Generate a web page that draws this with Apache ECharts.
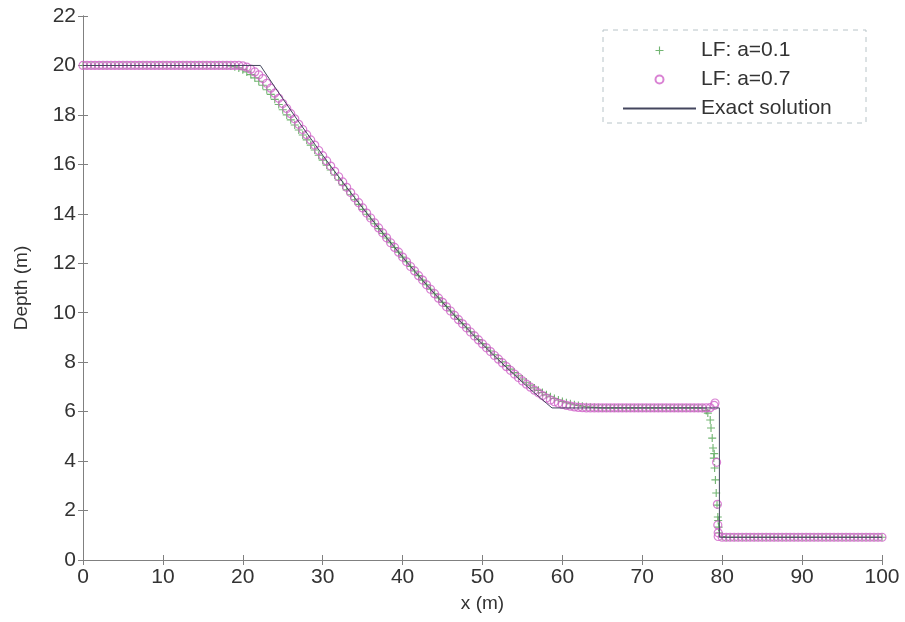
<!DOCTYPE html>
<html>
<head>
    <meta charset="utf-8">
    <title>Dam break - Depth</title>
    <script src="https://cdn.jsdelivr.net/npm/echarts@6/dist/echarts.min.js"></script>
</head>
<body style="margin:0;background:#fff;">
<div id="main" style="width: 905px;height:622px;"></div>
<script type="text/javascript">

    // sample grid of the numerical solutions (m)
    var xGrid = [
        0, 0.5, 1, 1.5, 2, 2.5, 3, 3.5, 4, 4.5,
        5, 5.5, 6, 6.5, 7, 7.5, 8, 8.5, 9, 9.5,
        10, 10.5, 11, 11.5, 12, 12.5, 13, 13.5, 14, 14.5,
        15, 15.5, 16, 16.5, 17, 17.5, 18, 18.5, 19, 19.5,
        20, 20.5, 21, 21.5, 22, 22.5, 23, 23.5, 24, 24.5,
        25, 25.5, 26, 26.5, 27, 27.5, 28, 28.5, 29, 29.5,
        30, 30.5, 31, 31.5, 32, 32.5, 33, 33.5, 34, 34.5,
        35, 35.5, 36, 36.5, 37, 37.5, 38, 38.5, 39, 39.5,
        40, 40.5, 41, 41.5, 42, 42.5, 43, 43.5, 44, 44.5,
        45, 45.5, 46, 46.5, 47, 47.5, 48, 48.5, 49, 49.5,
        50, 50.5, 51, 51.5, 52, 52.5, 53, 53.5, 54, 54.5,
        55, 55.5, 56, 56.5, 57, 57.5, 58, 58.5, 59, 59.5,
        60, 60.5, 61, 61.5, 62, 62.5, 63, 63.5, 64, 64.5,
        65, 65.5, 66, 66.5, 67, 67.5, 68, 68.5, 69, 69.5,
        70, 70.5, 71, 71.5, 72, 72.5, 73, 73.5, 74, 74.5,
        75, 75.5, 76, 76.5, 77, 77.5, 78, 78.5, 79, 79.5,
        80, 80.5, 81, 81.5, 82, 82.5, 83, 83.5, 84, 84.5,
        85, 85.5, 86, 86.5, 87, 87.5, 88, 88.5, 89, 89.5,
        90, 90.5, 91, 91.5, 92, 92.5, 93, 93.5, 94, 94.5,
        95, 95.5, 96, 96.5, 97, 97.5, 98, 98.5, 99, 99.5,
        100
    ];

    // LF: a=0.1 depth (m)
    var lf01Y = [
        20, 20, 20, 20, 20, 20, 20, 20, 20, 20,
        20, 20, 20, 20, 20, 20, 20, 20, 20, 20,
        20, 20, 20, 20, 20, 20, 20, 20, 20, 20,
        20, 20, 20, 20, 20, 20, 20, 19.98, 19.95, 19.9,
        19.83, 19.74, 19.63, 19.5, 19.36, 19.2, 19.02, 18.83, 18.63, 18.42,
        18.21, 18.0, 17.8, 17.59, 17.39, 17.19, 16.99, 16.78, 16.58, 16.37,
        16.17, 15.97, 15.77, 15.57, 15.37, 15.17, 14.97, 14.77, 14.57, 14.38,
        14.18, 13.98, 13.79, 13.6, 13.4, 13.21, 13.02, 12.83, 12.64, 12.45,
        12.25, 12.06, 11.87, 11.69, 11.5, 11.32, 11.13, 10.95, 10.77, 10.6,
        10.42, 10.25, 10.07, 9.9, 9.73, 9.56, 9.39, 9.23, 9.07, 8.91,
        8.75, 8.6, 8.45, 8.3, 8.15, 8.01, 7.86, 7.72, 7.58, 7.45,
        7.32, 7.19, 7.07, 6.96, 6.86, 6.77, 6.68, 6.6, 6.53, 6.47,
        6.41, 6.36, 6.32, 6.28, 6.25, 6.22, 6.2, 6.18, 6.17, 6.16,
        6.15, 6.15, 6.15, 6.15, 6.15, 6.15, 6.15, 6.15, 6.15, 6.15,
        6.15, 6.15, 6.15, 6.15, 6.15, 6.15, 6.15, 6.15, 6.15, 6.15,
        6.15, 6.15, 6.15, 6.15, 6.15, 6.14, 6.05, 5.66, 4.3, 1.6,
        0.95, 0.92, 0.92, 0.92, 0.92, 0.92, 0.92, 0.92, 0.92, 0.92,
        0.92, 0.92, 0.92, 0.92, 0.92, 0.92, 0.92, 0.92, 0.92, 0.92,
        0.92, 0.92, 0.92, 0.92, 0.92, 0.92, 0.92, 0.92, 0.92, 0.92,
        0.92, 0.92, 0.92, 0.92, 0.92, 0.92, 0.92, 0.92, 0.92, 0.92,
        0.92
    ];

    // LF: a=0.7 depth (m)
    var lf07Y = [
        20, 20, 20, 20, 20, 20, 20, 20, 20, 20,
        20, 20, 20, 20, 20, 20, 20, 20, 20, 20,
        20, 20, 20, 20, 20, 20, 20, 20, 20, 20,
        20, 20, 20, 20, 20, 20, 20, 20, 20, 20,
        19.98, 19.93, 19.85, 19.74, 19.62, 19.47, 19.28, 19.08, 18.88, 18.67,
        18.46, 18.26, 18.05, 17.84, 17.62, 17.41, 17.2, 16.99, 16.78, 16.56,
        16.35, 16.14, 15.93, 15.72, 15.5, 15.29, 15.07, 14.86, 14.65, 14.45,
        14.24, 14.03, 13.83, 13.63, 13.43, 13.23, 13.03, 12.83, 12.64, 12.45,
        12.25, 12.06, 11.87, 11.69, 11.5, 11.32, 11.13, 10.95, 10.77, 10.59,
        10.42, 10.24, 10.07, 9.89, 9.72, 9.55, 9.39, 9.22, 9.06, 8.9,
        8.74, 8.58, 8.43, 8.27, 8.12, 7.97, 7.82, 7.67, 7.52, 7.38,
        7.24, 7.11, 6.99, 6.87, 6.76, 6.65, 6.55, 6.47, 6.4, 6.34,
        6.29, 6.25, 6.22, 6.19, 6.17, 6.16, 6.15, 6.15, 6.15, 6.15,
        6.15, 6.15, 6.15, 6.15, 6.15, 6.15, 6.15, 6.15, 6.15, 6.15,
        6.15, 6.15, 6.15, 6.15, 6.15, 6.15, 6.15, 6.15, 6.15, 6.15,
        6.15, 6.15, 6.15, 6.15, 6.15, 6.15, 6.15, 6.16, 6.25, 0.95,
        0.92, 0.92, 0.92, 0.92, 0.92, 0.92, 0.92, 0.92, 0.92, 0.92,
        0.92, 0.92, 0.92, 0.92, 0.92, 0.92, 0.92, 0.92, 0.92, 0.92,
        0.92, 0.92, 0.92, 0.92, 0.92, 0.92, 0.92, 0.92, 0.92, 0.92,
        0.92, 0.92, 0.92, 0.92, 0.92, 0.92, 0.92, 0.92, 0.92, 0.92,
        0.92
    ];

    // extra points inside the shock
    var lf01ShockX = [78.2, 78.6, 78.75, 78.85, 78.95, 79.05, 79.15, 79.25, 79.35, 79.45, 79.55, 79.6];
    var lf01ShockY = [5.94, 5.34, 4.93, 4.53, 4.12, 3.72, 3.24, 2.71, 2.22, 1.74, 1.33, 1.09];
    var lf07ShockX = [79.1, 79.3, 79.4, 79.45, 79.5];
    var lf07ShockY = [6.35, 3.95, 2.25, 1.42, 1.1];

    // exact solution
    var exactX = [0, 22.2,
        23, 24, 25, 26, 27, 28, 29, 30, 31, 32, 33, 34, 35, 36, 37, 38, 39, 40,
        41, 42, 43, 44, 45, 46, 47, 48, 49, 50, 51, 52, 53, 54, 55, 56, 57, 58,
        58.7, 79.65, 79.65, 100];
    var exactY = [20, 20,
        19.61, 19.13, 18.66, 18.19, 17.72, 17.27, 16.82, 16.37, 15.93, 15.5, 15.07, 14.65, 14.24, 13.83, 13.43, 13.03, 12.64, 12.25,
        11.87, 11.5, 11.13, 10.77, 10.42, 10.07, 9.72, 9.39, 9.05, 8.73, 8.41, 8.1, 7.79, 7.49, 7.19, 6.9, 6.62, 6.34,
        6.15, 6.15, 0.92, 0.92];

    function pairs(xs, ys) {
        var out = [];
        for (var i = 0; i < xs.length; i++) {
            out.push([xs[i], ys[i]]);
        }
        return out;
    }

    var font = 'Liberation Sans, Arial, sans-serif';
    var axisColor = '#808080';
    var textColor = '#333333';
    var exactColor = '#44465e';
    var plusPath = 'path://M4.3,0H5.7V4.3H10V5.7H5.7V10H4.3V5.7H0V4.3H4.3Z';

    var myChart = echarts.init(document.getElementById('main'));

    myChart.setOption({
        animation: false,
        backgroundColor: '#fff',
        grid: {left: 83, right: 23, top: 16, bottom: 62},
        legend: {
            orient: 'vertical',
            left: 617,
            top: 35,
            z: 10,
            itemWidth: 73,
            itemHeight: 8,
            itemGap: 8,
            textStyle: {fontSize: 21, color: textColor, fontFamily: font},
            data: [
                'LF: a=0.1',
                'LF: a=0.7',
                // line only, no dot on the legend icon
                {name: 'Exact solution', itemStyle: {color: 'rgba(0,0,0,0)', borderWidth: 0}}
            ]
        },
        graphic: [{
            type: 'rect',
            z: 1,
            shape: {x: 603, y: 30, width: 263, height: 93},
            style: {fill: '#fff', stroke: '#b8c4c8', lineWidth: 1, lineDash: [5, 5]}
        }],
        xAxis: [{
            type: 'value',
            min: 0, max: 100, interval: 10,
            name: 'x (m)',
            nameLocation: 'middle',
            nameGap: 34,
            nameTextStyle: {fontSize: 19, color: textColor, fontFamily: font},
            axisLine: {lineStyle: {color: axisColor}},
            axisTick: {inside: true, length: 5, lineStyle: {color: axisColor}},
            axisLabel: {fontSize: 21, color: textColor, fontFamily: font, margin: 7},
            splitLine: {show: false}
        }, {
            type: 'value',
            position: 'top',
            min: 0, max: 100, interval: 10,
            axisLine: {lineStyle: {color: axisColor}},
            axisTick: {inside: true, length: 5, lineStyle: {color: axisColor}},
            axisLabel: {show: false},
            splitLine: {show: false}
        }],
        yAxis: [{
            type: 'value',
            min: 0, max: 22, interval: 2,
            name: 'Depth (m)',
            nameLocation: 'middle',
            nameGap: 52,
            nameTextStyle: {fontSize: 19, color: textColor, fontFamily: font},
            axisLine: {lineStyle: {color: axisColor}},
            axisTick: {inside: true, length: 5, lineStyle: {color: axisColor}},
            axisLabel: {fontSize: 21, color: textColor, fontFamily: font, margin: 7},
            splitLine: {show: false}
        }, {
            type: 'value',
            position: 'right',
            min: 0, max: 22, interval: 2,
            axisLine: {lineStyle: {color: axisColor}},
            axisTick: {inside: true, length: 5, lineStyle: {color: axisColor}},
            axisLabel: {show: false},
            splitLine: {show: false}
        }],
        series: [{
            name: 'LF: a=0.1',
            type: 'scatter',
            symbol: plusPath,
            symbolSize: 8,
            itemStyle: {color: '#4fa24f'},
            emphasis: {disabled: true},
            data: pairs(xGrid, lf01Y).concat(pairs(lf01ShockX, lf01ShockY))
        }, {
            name: 'LF: a=0.7',
            type: 'scatter',
            symbol: 'circle',
            symbolSize: 8,
            itemStyle: {color: 'rgba(0,0,0,0)', borderColor: '#d063c8', borderWidth: 1.2},
            emphasis: {disabled: true},
            data: pairs(xGrid, lf07Y).concat(pairs(lf07ShockX, lf07ShockY))
        }, {
            name: 'Exact solution',
            type: 'line',
            symbol: 'none',
            itemStyle: {color: exactColor},
            lineStyle: {color: exactColor, width: 1},
            emphasis: {disabled: true},
            data: pairs(exactX, exactY)
        }]
    });

</script>
</body>
</html>
